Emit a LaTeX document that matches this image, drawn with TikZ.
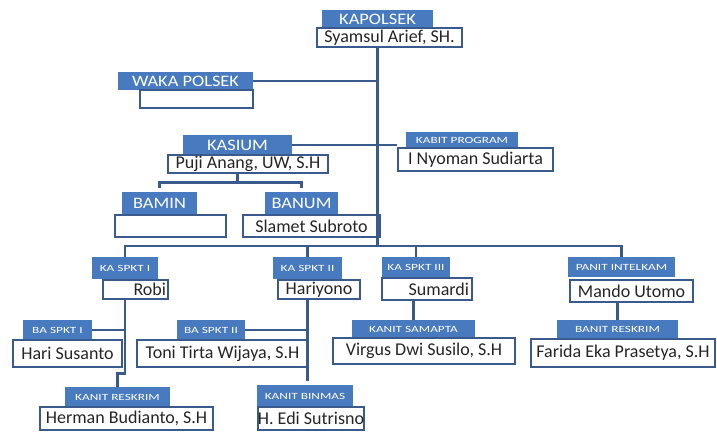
\documentclass[tikz,border=0pt]{standalone}
\usepackage{fontspec}
\setmainfont{Carlito}
\newfontfamily\stretchfont[FakeStretch=1.4]{Carlito}
\newfontfamily\widefont[FakeStretch=1.15]{Carlito}
\usepackage{tikz}
\usetikzlibrary{positioning}

\definecolor{boxblue}{RGB}{72,122,192}
\definecolor{lineblue}{RGB}{58,90,140}

\begin{document}
\begin{tikzpicture}[x=1pt,y=-1pt,thick,
  title node/.style={fill=boxblue,text=white,inner sep=0pt,font=\widefont\fontsize{16}{16}\selectfont},
  small title/.style={title node,font=\stretchfont\fontsize{9.5}{9.5}\selectfont},
  name node/.style={draw=lineblue,fill=white,line width=2.5pt,inner sep=0pt,text=black!85,font=\fontsize{18}{18}\selectfont},
  link/.style={draw=lineblue,line width=2.5pt}]

  \useasboundingbox (0,0) rectangle (717,432);

  % title boxes
  \node[title node,minimum width=111pt,minimum height=18pt] (kapolsekt) at (377.5,19) {KAPOLSEK};
  \node[title node,minimum width=135pt,minimum height=18pt] (wakat) at (185.5,81) {WAKA POLSEK};
  \node[title node,minimum width=109pt,minimum height=20pt] (kasiumt) at (237.5,145) {KASIUM};
  \node[small title,minimum width=112pt,minimum height=16pt] (programt) at (462,140) {KABIT PROGRAM};
  \node[title node,minimum width=75pt,minimum height=23pt] (bamint) at (159.5,203.5) {BAMIN};
  \node[title node,minimum width=73pt,minimum height=23pt] (banumt) at (301.5,203.5) {BANUM};
  \node[small title,minimum width=66pt,minimum height=22pt] (spkt1t) at (125,268) {KA SPKT I};
  \node[small title,minimum width=69pt,minimum height=22pt] (spkt2t) at (307.5,268) {KA SPKT II};
  \node[small title,minimum width=68pt,minimum height=21pt] (spkt3t) at (416,267.5) {KA SPKT III};
  \node[small title,minimum width=107pt,minimum height=20pt] (intelkamt) at (621.5,267) {PANIT INTELKAM};
  \node[small title,minimum width=69pt,minimum height=20pt] (baspkt1t) at (57.5,330) {BA SPKT I};
  \node[small title,minimum width=68pt,minimum height=20pt] (baspkt2t) at (211,330) {BA SPKT II};
  \node[small title,minimum width=123pt,minimum height=18pt] (samaptat) at (413.5,329) {KANIT SAMAPTA};
  \node[small title,minimum width=121pt,minimum height=18pt] (banitt) at (617.5,329) {BANIT RESKRIM};
  \node[small title,minimum width=105pt,minimum height=20pt] (reskrimt) at (117.5,397) {KANIT RESKRIM};
  \node[small title,minimum width=96pt,minimum height=22pt] (binmast) at (305,396) {KANIT BINMAS};

  % name boxes
  \node[name node,minimum width=145pt,minimum height=19pt] (kapolsek) at (389.5,37.5) {Syamsul Arief, SH.};
  \node[name node,minimum width=113pt,minimum height=18pt] (waka) at (196.5,99) {};
  \node[name node,minimum width=160pt,minimum height=18pt] (kasium) at (248,164) {Puji Anang, UW, S.H};
  \node[name node,minimum width=155pt,minimum height=23pt] (program) at (475.5,159.5) {I Nyoman Sudiarta};
  \node[name node,minimum width=111pt,minimum height=22pt] (bamin) at (170.5,226) {};
  \node[name node,minimum width=137pt,minimum height=22pt] (banum) at (311.5,226) {Slamet Subroto};
  \node[name node,minimum width=65pt,minimum height=19pt,text width=61pt,align=right] (spkt1) at (135.5,289.5) {Robi};
  \node[name node,minimum width=82pt,minimum height=19pt] (spkt2) at (319,289.5) {Hariyono};
  \node[name node,minimum width=90pt,minimum height=22pt,text width=84pt,align=right] (spkt3) at (427,289) {Sumardi};
  \node[name node,minimum width=123pt,minimum height=22pt] (intelkam) at (631.5,291) {Mando Utomo};
  \node[name node,minimum width=109pt,minimum height=27pt] (baspkt1) at (67.5,353.5) {Hari Susanto};
  \node[name node,minimum width=171pt,minimum height=27pt] (baspkt2) at (222.5,353.5) {Toni Tirta Wijaya, S.H};
  \node[name node,minimum width=182pt,minimum height=26pt] (samapta) at (424,351) {Virgus Dwi Susilo, S.H};
  \node[name node,minimum width=184pt,minimum height=28pt] (banit) at (623,353) {Farida Eka Prasetya, S.H};
  \node[name node,minimum width=173pt,minimum height=23pt] (reskrim) at (126.5,418.5) {Herman Budianto, S.H};
  \node[name node,minimum width=106pt,minimum height=23pt] (binmas) at (311,418.5) {H. Edi Sutrisno};

  \coordinate (trunk) at (kapolsekt |- 0,246);

  \path[link]
    (kapolsekt |- kapolsek.south) edge (trunk)
    (wakat.east) edge (wakat.east -| trunk)
    (kasiumt.east) edge (kasiumt.east -| program.west);
  \draw[link] (trunk) -| (spkt1t.north);
  \draw[link] (trunk) -| (spkt2t.north);
  \draw[link] (trunk) -| (spkt3t.north);
  \draw[link] (trunk) -| (intelkamt.north);
  \draw[link,shorten >=4pt] (kasiumt |- kasium.south) -- ++(0,8) -| (bamint.north);
  \draw[link,shorten >=4pt] (kasiumt |- kasium.south) -- ++(0,8) -| (banumt.north);

  \draw[link] (spkt1t |- spkt1.south) -- ++(0,73) -| (reskrimt.north);
  \draw[link] (baspkt1t.east) -- (baspkt1t.east -| spkt1t);
  \draw[link,shorten >=4pt] (spkt2t |- spkt2.south) -- (spkt2t |- binmast.north);
  \draw[link] (baspkt2t.east) -- (baspkt2t.east -| spkt2t);
  \draw[link] (samaptat |- spkt3.south) -- (samaptat.north);
  \draw[link] (banitt |- intelkam.south) -- (banitt.north);
\end{tikzpicture}
\end{document}
